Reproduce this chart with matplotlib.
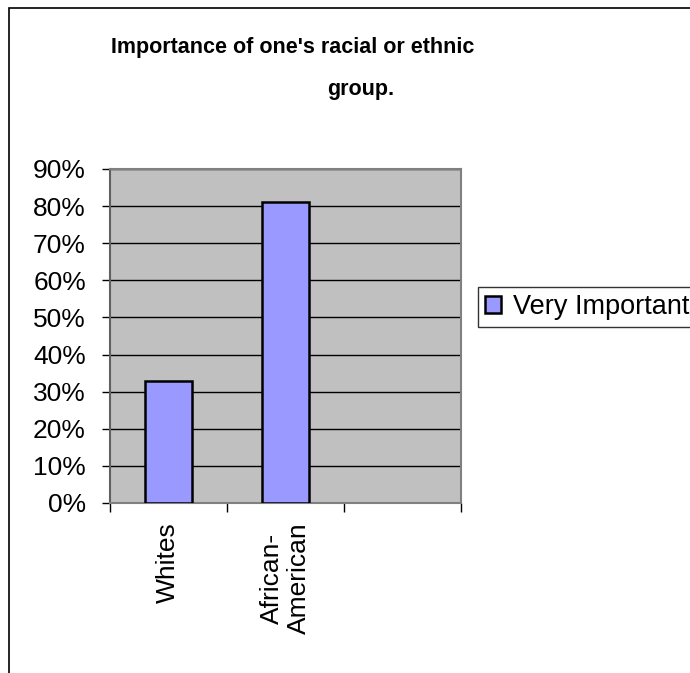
import numpy as np
import matplotlib.pyplot as plt
from matplotlib.patches import Rectangle
from matplotlib.ticker import PercentFormatter

plt.rcParams['font.family'] = ['Liberation Sans', 'DejaVu Sans']

# Données
categories = ["Whites", "African-\nAmerican", ""]
very_important = [33, 81, np.nan]
series_label = "Very Important"
title_lines = ["Importance of one's racial or ethnic", "group."]

fig = plt.figure(figsize=(6.9, 6.73), dpi=100)

# Cadre du graphique (bord noir, coupé à droite et en bas)
fig.patches.append(Rectangle((8.5 / 690, -0.2), 1.1, 1.2 - 8 / 673,
                             transform=fig.transFigure, fill=False,
                             edgecolor="black", linewidth=1.2))

ax = fig.add_axes([109.5 / 690, 1 - 503 / 673, 352 / 690, 334 / 673])
ax.set_facecolor("#C0C0C0")

x = np.arange(len(categories))
ax.bar(x, very_important, width=0.4, color="#9999FF", edgecolor="black",
       linewidth=1.8, zorder=3, label=series_label)

ax.set_xlim(-0.5, len(categories) - 0.5)
ax.set_ylim(0, 90)
ax.set_yticks(np.arange(0, 91, 10))
ax.yaxis.set_major_formatter(PercentFormatter(decimals=0))
ax.yaxis.grid(True, color="black", linewidth=1.0, zorder=1)
ax.set_axisbelow(True)

ax.set_xticks(x)
ax.set_xticklabels(categories, rotation=90, va="top", ha="center",
                   fontsize=19, linespacing=1.2)
ax.set_xticks(np.arange(len(categories) + 1) - 0.5, minor=True)
ax.tick_params(axis="x", which="major", length=0, pad=14)
ax.tick_params(axis="x", which="minor", length=6.5, width=1, color="black")
ax.tick_params(axis="y", length=6, width=1, labelsize=19, pad=11)

for side in ["top", "right", "bottom"]:
    ax.spines[side].set_color("#808080")
    ax.spines[side].set_linewidth(1.5)
ax.spines["left"].set_color("#606060")
ax.spines["left"].set_linewidth(1.5)

# Titre sur deux lignes (centres)
fig.text(293 / 690, 1 - 48 / 673, title_lines[0], ha="center", va="center",
         fontsize=15.5, fontweight="bold")
fig.text(361 / 690, 1 - 89 / 673, title_lines[1], ha="center", va="center",
         fontsize=15.5, fontweight="bold")

leg = fig.legend(loc="upper left", bbox_to_anchor=(478 / 690, 1 - 287 / 673),
                 fontsize=19.5, frameon=True, fancybox=False, handlelength=0.6,
                 handleheight=0.6, handletextpad=0.45, borderpad=0.25,
                 borderaxespad=0)
leg.get_frame().set_edgecolor("black")
leg.get_frame().set_linewidth(1.0)

fig.savefig("out.png", dpi=100)
